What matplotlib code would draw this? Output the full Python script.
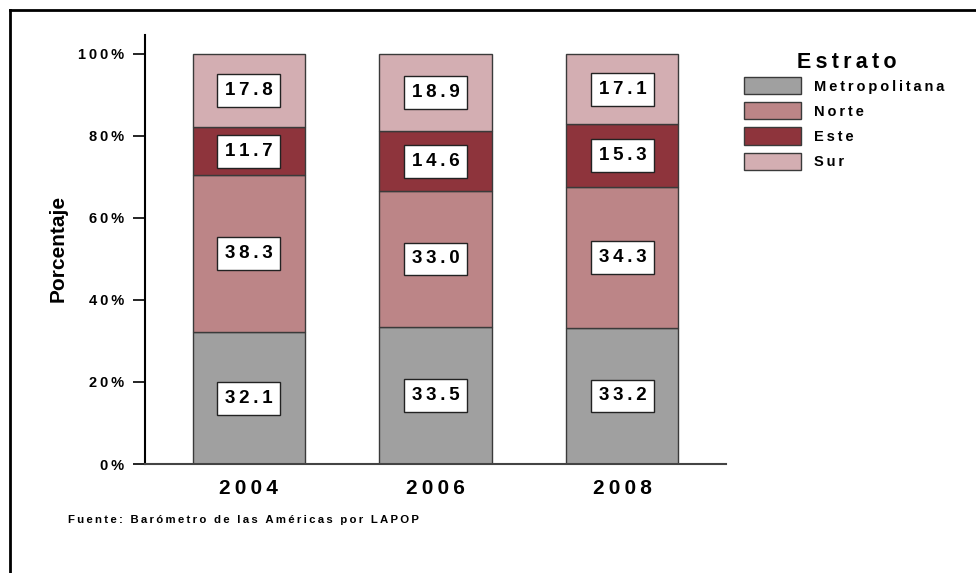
import matplotlib
matplotlib.use("Agg")
import matplotlib.pyplot as plt
import matplotlib.patches as mpatches
import numpy as np

plt.rcParams['font.family'] = ['Liberation Sans', 'DejaVu Sans']

years = ['2004', '2006', '2008']
strata = ['Metropolitana', 'Norte', 'Este', 'Sur']
metropolitana = [32.1, 33.5, 33.2]
norte = [38.3, 33.0, 34.3]
este = [11.7, 14.6, 15.3]
sur = [17.8, 18.9, 17.1]
colors = ['#a0a0a0', '#bc8587', '#8e343c', '#d3aeb2']
yticks = [0, 20, 40, 60, 80, 100]


def spaced(s, sep='\u2009'):
    # fake letter spacing like the original chart
    return sep.join(s)


fig = plt.figure(figsize=(9.76, 5.73), dpi=100)
ax = fig.add_axes([145 / 976, 1 - 464 / 573, (726 - 145) / 976, (464 - 35) / 573])

x = np.arange(len(years))
bottom = np.zeros(len(years))
for name, vals, col in zip(strata, [metropolitana, norte, este, sur], colors):
    vals = np.array(vals)
    ax.bar(x, vals, width=0.6, bottom=bottom, color=col, edgecolor='#3a3a3a',
           linewidth=1.0, label=name)
    for xi, b, v in zip(x, bottom, vals):
        ax.text(xi, b + v / 2, spaced(f'{v:.1f}'), ha='center', va='center',
                fontsize=13.5, fontweight='bold',
                bbox=dict(boxstyle='square,pad=0.42', fc='white', ec='#222222', lw=1.0))
    bottom += vals

ax.set_xlim(-0.555, 2.555)
ax.set_ylim(0, 104.6)
ax.set_yticks(yticks)
ax.set_yticklabels([spaced(f'{t}%') for t in yticks], fontsize=10.5, fontweight='bold')
ax.set_xticks(x)
ax.set_xticklabels([spaced(y) for y in years], fontsize=15, fontweight='bold')
ax.tick_params(axis='y', length=9, width=1.2, pad=6)
ax.tick_params(axis='x', length=0, pad=11)
for s in ['top', 'right']:
    ax.spines[s].set_visible(False)
ax.spines['left'].set_linewidth(1.5)
ax.spines['bottom'].set_linewidth(1.5)
ax.spines['bottom'].set_color('#444444')

fig.text(58 / 976, 1 - 248 / 573, 'Porcentaje', rotation=90, ha='center', va='center',
         fontsize=15, fontweight='bold')

fig.text(68 / 976, 1 - 520 / 573, spaced('Fuente: Barómetro de las Américas por LAPOP'),
         ha='left', va='center', fontsize=8.2, fontweight='bold')

# legend title placed separately to control the gap
fig.text(847 / 976, 1 - 62 / 573, spaced('Estrato'), ha='center', va='center',
         fontsize=15.5, fontweight='bold')
handles = [mpatches.Patch(facecolor=c, edgecolor='#3a3a3a', label=spaced(n))
           for n, c in zip(strata, colors)]
leg = fig.legend(handles=handles, loc='upper left', bbox_to_anchor=(731 / 976, 1 - 64 / 573),
                 frameon=False, handlelength=3.9, handleheight=1.43,
                 labelspacing=0.55, handletextpad=0.9,
                 prop={'weight': 'bold', 'size': 10.5})

# outer frame (only top and left visible in the original)
fig.add_artist(plt.Line2D([9.5 / 976, 1], [1 - 9.5 / 573] * 2, color='black', lw=2))
fig.add_artist(plt.Line2D([9.5 / 976] * 2, [0, 1 - 9.5 / 573], color='black', lw=2))

fig.savefig('out.png', dpi=100)
